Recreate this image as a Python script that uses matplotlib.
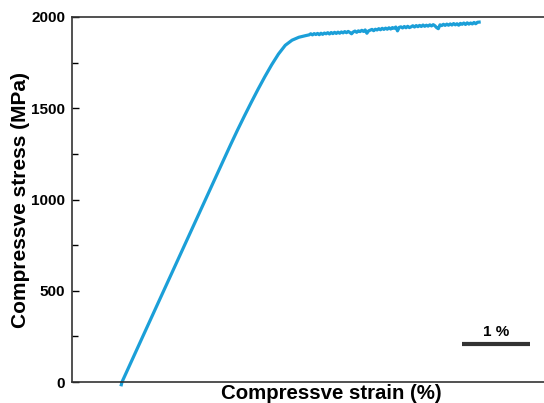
import matplotlib.pyplot as plt

plt.rcParams['font.family'] = ['Liberation Sans', 'DejaVu Sans']
plt.rcParams['font.weight'] = 'bold'

# loading part of the curve (strain %, stress MPa)
rise_strain = [-0.01, 0.0, 0.5, 1.0, 1.5, 1.6, 1.7, 1.8, 1.9, 2.0, 2.1, 2.2, 2.3, 2.4, 2.5, 2.6, 2.7]
rise_stress = [-15, 0, 408, 815, 1222, 1303, 1382, 1458, 1532, 1604, 1673, 1738, 1797, 1845, 1873, 1889, 1898]

# plateau with the serrations
plat_strain = [2.750, 2.775, 2.800, 2.825, 2.850, 2.875, 2.900, 2.925, 2.950, 2.975,
               3.000, 3.025, 3.050, 3.075, 3.100, 3.125, 3.150, 3.175, 3.200, 3.225,
               3.250, 3.275, 3.300, 3.325, 3.350, 3.375, 3.400, 3.425, 3.450, 3.475,
               3.500, 3.525, 3.550, 3.575, 3.600, 3.625, 3.650, 3.675, 3.700, 3.725,
               3.750, 3.775, 3.800, 3.825, 3.850, 3.875, 3.900, 3.925, 3.950, 3.975,
               4.000, 4.025, 4.050, 4.075, 4.100, 4.125, 4.150, 4.175, 4.200, 4.225,
               4.250, 4.275, 4.300, 4.325, 4.350, 4.375, 4.400, 4.425, 4.450, 4.475,
               4.500, 4.525, 4.550, 4.575, 4.600, 4.625, 4.650, 4.675, 4.700, 4.725,
               4.750, 4.775, 4.800, 4.825, 4.850, 4.875, 4.900, 4.925, 4.950, 4.975,
               5.000, 5.025, 5.050, 5.075, 5.100, 5.125, 5.150, 5.175, 5.200, 5.225,
               5.250]
plat_stress = [1902, 1908, 1902, 1909, 1904, 1910, 1903, 1911, 1905, 1912,
               1908, 1914, 1907, 1915, 1909, 1916, 1910, 1917, 1911, 1918,
               1913, 1920, 1914, 1921, 1915, 1908, 1918, 1923, 1916, 1924,
               1920, 1927, 1921, 1929, 1911, 1924, 1928, 1932, 1925, 1933,
               1929, 1936, 1930, 1938, 1932, 1939, 1933, 1941, 1934, 1942,
               1938, 1945, 1924, 1943, 1946, 1940, 1948, 1941, 1949, 1942,
               1946, 1952, 1945, 1953, 1947, 1954, 1948, 1956, 1949, 1955,
               1950, 1957, 1951, 1958, 1952, 1942, 1936, 1957, 1953, 1960,
               1954, 1961, 1955, 1962, 1956, 1964, 1957, 1963, 1955, 1965,
               1960, 1967, 1959, 1968, 1961, 1967, 1962, 1970, 1963, 1971,
               1972]

yticks = [0, 500, 1000, 1500, 2000]
scale_bar = [5.0, 6.0]

strain = rise_strain + plat_strain
stress = rise_stress + plat_stress

fig = plt.figure(figsize=(5.44, 4.03), dpi=100)
ax = fig.add_axes([72 / 544, 21 / 403, 518 / 544, 365 / 403])

ax.plot(strain, stress, color='#1b9fd8', lw=2.3, clip_on=False)

ax.set_xlim(-0.735, 6.88)
ax.set_ylim(0, 2000)
ax.set_xticks([])
ax.set_yticks(yticks)
ax.set_yticks([250, 750, 1250, 1750], minor=True)
ax.tick_params(axis='y', which='both', direction='in', labelsize=11, pad=5)
ax.tick_params(axis='y', which='major', length=5, width=1)
ax.tick_params(axis='y', which='minor', length=4, width=1)
for s in ['left', 'top', 'bottom']:
    ax.spines[s].set_linewidth(1.2)
    ax.spines[s].set_color('#333333')
ax.spines['right'].set_visible(False)

ax.set_ylabel('Compressve stress (MPa)', fontsize=15, fontweight='bold', labelpad=0.5)
ax.set_xlabel('Compressve strain (%)', fontsize=14.7, fontweight='bold', labelpad=1.5)

# 1 % scale bar
ax.plot(scale_bar, [208, 208], color='#333333', lw=3, solid_capstyle='butt')
ax.text(sum(scale_bar) / 2, 235, '1 %', ha='center', va='bottom', fontsize=11, fontweight='bold')

fig.savefig('out.png', dpi=100)
